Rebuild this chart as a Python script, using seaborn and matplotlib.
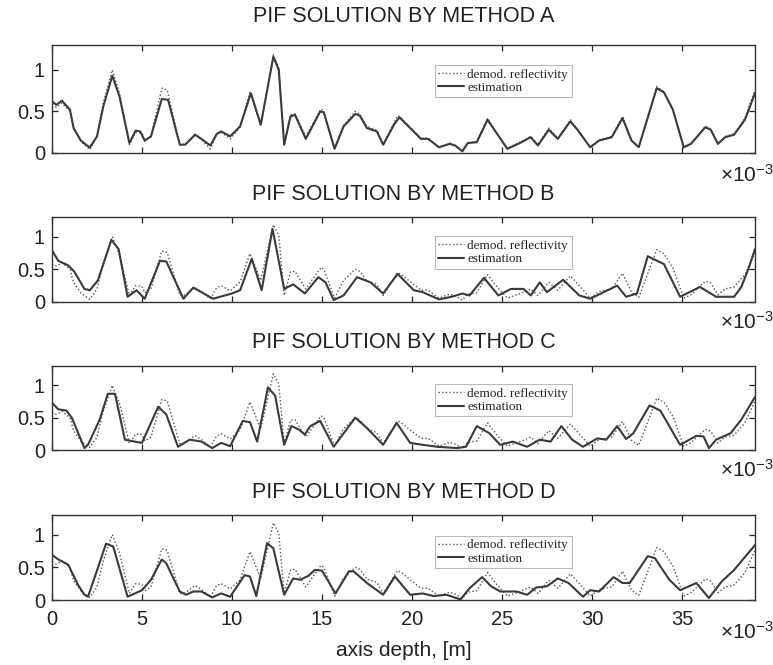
import numpy as np
import pandas as pd
import matplotlib
matplotlib.use("Agg")
import matplotlib.pyplot as plt
import seaborn as sns

# depth in units of 1e-3 m
depth_ref = [0, 0.25, 0.55, 1.0, 1.2, 1.6, 2.1, 2.5, 2.85, 3.35, 3.75, 4.3, 4.65, 5.0, 5.15, 5.5,
             6.1, 6.4, 7.1, 7.4, 7.95, 8.3, 8.8, 9.15, 9.4, 9.9, 10.45, 11.0, 11.6, 12.3, 12.6,
             12.9, 13.25, 13.5, 14.1, 14.95, 15.1, 15.7, 16.2, 16.85, 17.1, 17.5, 18.05, 18.4,
             19.2, 19.4, 20.5, 20.9, 21.5, 22.1, 22.4, 22.8, 23.1, 23.6, 24.2, 24.7, 25.3, 26.0,
             26.6, 27.0, 27.6, 28.1, 28.8, 29.2, 29.9, 30.4, 31.1, 31.7, 32.2, 32.6, 33.6, 34.0,
             34.5, 35.1, 35.5, 36.3, 36.6, 37.0, 37.4, 37.9, 38.5, 39.06]
refl = [0.58, 0.55, 0.60, 0.50, 0.30, 0.14, 0.04, 0.20, 0.60, 1.00, 0.72, 0.10, 0.25, 0.24, 0.14,
        0.20, 0.78, 0.76, 0.10, 0.11, 0.22, 0.16, 0.05, 0.22, 0.25, 0.17, 0.31, 0.74, 0.33, 1.18,
        1.02, 0.10, 0.46, 0.47, 0.20, 0.53, 0.50, 0.06, 0.33, 0.50, 0.47, 0.32, 0.27, 0.10, 0.45,
        0.42, 0.18, 0.18, 0.06, 0.12, 0.09, 0.03, 0.12, 0.14, 0.42, 0.24, 0.06, 0.13, 0.20, 0.10,
        0.30, 0.18, 0.40, 0.28, 0.06, 0.16, 0.20, 0.44, 0.15, 0.07, 0.80, 0.74, 0.52, 0.06, 0.11,
        0.32, 0.29, 0.11, 0.20, 0.23, 0.42, 0.76]

depth_a = [0, 0.25, 0.55, 1.0, 1.2, 1.6, 2.1, 2.5, 2.85, 3.35, 3.75, 4.3, 4.65, 4.9, 5.15, 5.5,
           6.1, 6.45, 7.1, 7.4, 7.95, 8.3, 8.8, 9.15, 9.4, 9.9, 10.45, 11.05, 11.6, 12.3, 12.6,
           12.9, 13.25, 13.5, 14.1, 14.9, 15.1, 15.7, 16.2, 16.85, 17.1, 17.5, 18.05, 18.4, 19.0,
           19.3, 20.5, 20.9, 21.5, 22.1, 22.4, 22.8, 23.1, 23.6, 24.2, 24.7, 25.3, 26.0, 26.6,
           27.0, 27.6, 28.1, 28.8, 29.2, 29.9, 30.4, 31.1, 31.7, 32.2, 32.6, 33.6, 34.0, 34.5,
           35.1, 35.5, 36.3, 36.6, 37.0, 37.4, 37.9, 38.5, 39.06]
est_a = [0.62, 0.58, 0.63, 0.52, 0.30, 0.15, 0.065, 0.20, 0.56, 0.93, 0.68, 0.12, 0.27, 0.26, 0.15,
         0.20, 0.65, 0.64, 0.10, 0.10, 0.22, 0.17, 0.09, 0.23, 0.26, 0.20, 0.32, 0.72, 0.34, 1.16,
         1.00, 0.10, 0.44, 0.46, 0.17, 0.50, 0.49, 0.05, 0.32, 0.47, 0.45, 0.30, 0.26, 0.10, 0.34,
         0.43, 0.17, 0.17, 0.07, 0.11, 0.09, 0.02, 0.12, 0.13, 0.40, 0.24, 0.05, 0.12, 0.19, 0.09,
         0.28, 0.17, 0.38, 0.28, 0.07, 0.15, 0.19, 0.42, 0.15, 0.07, 0.78, 0.73, 0.52, 0.07, 0.11,
         0.31, 0.28, 0.11, 0.19, 0.22, 0.40, 0.72]

depth_b = [0, 0.35, 0.9, 1.25, 1.8, 2.1, 2.55, 3.3, 3.7, 4.2, 4.7, 5.15, 6.0, 6.35, 7.3, 7.85, 8.95,
           10.0, 10.45, 11.1, 11.65, 12.25, 12.9, 13.4, 14.05, 14.8, 15.2, 15.65, 16.2, 16.95,
           17.7, 18.4, 19.2, 20.1, 20.6, 21.5, 22.2, 22.8, 23.2, 24.0, 24.8, 25.5, 26.2, 26.6,
           27.1, 27.5, 28.4, 29.3, 29.9, 30.5, 31.4, 31.9, 32.5, 33.1, 34.0, 34.9, 36.0, 36.9,
           37.9, 38.3, 38.7, 39.06]
est_b = [0.79, 0.63, 0.56, 0.46, 0.20, 0.18, 0.33, 0.95, 0.81, 0.08, 0.18, 0.05, 0.63, 0.62, 0.05,
         0.22, 0.05, 0.13, 0.18, 0.66, 0.18, 1.12, 0.20, 0.27, 0.13, 0.38, 0.30, 0.03, 0.10, 0.38,
         0.30, 0.13, 0.43, 0.18, 0.15, 0.04, 0.08, 0.13, 0.10, 0.37, 0.10, 0.20, 0.20, 0.10, 0.30,
         0.15, 0.34, 0.10, 0.05, 0.13, 0.25, 0.08, 0.13, 0.70, 0.58, 0.08, 0.23, 0.08, 0.08, 0.23,
         0.51, 0.81]

depth_c = [0, 0.35, 0.8, 1.1, 1.8, 2.0, 2.65, 3.1, 3.5, 4.05, 4.6, 5.0, 5.9, 6.35, 7.0, 7.65, 8.3,
           8.9, 9.4, 9.9, 10.6, 11.0, 11.4, 12.0, 12.4, 12.9, 13.3, 13.7, 14.05, 14.35, 14.9,
           15.65, 16.85, 17.5, 18.4, 19.15, 19.9, 20.6, 21.4, 22.5, 23.0, 23.6, 24.3, 24.9, 25.6,
           26.4, 27.1, 27.7, 28.3, 28.9, 29.5, 30.3, 30.8, 31.4, 31.9, 32.3, 33.2, 33.8, 34.9,
           35.8, 36.2, 36.5, 36.9, 37.7, 38.3, 39.06]
est_c = [0.73, 0.63, 0.61, 0.50, 0.03, 0.08, 0.47, 0.87, 0.87, 0.16, 0.13, 0.11, 0.67, 0.55, 0.05,
         0.16, 0.13, 0.03, 0.11, 0.06, 0.45, 0.43, 0.13, 0.97, 0.84, 0.08, 0.37, 0.32, 0.24, 0.37,
         0.45, 0.05, 0.50, 0.34, 0.08, 0.42, 0.11, 0.08, 0.05, 0.03, 0.05, 0.37, 0.26, 0.08, 0.13,
         0.05, 0.16, 0.13, 0.37, 0.16, 0.05, 0.18, 0.16, 0.37, 0.17, 0.26, 0.69, 0.61, 0.08, 0.22,
         0.21, 0.03, 0.16, 0.26, 0.47, 0.82]

depth_d = [0, 0.35, 0.9, 1.45, 1.8, 2.0, 2.45, 3.0, 3.4, 4.2, 5.0, 5.5, 6.1, 6.35, 7.1, 7.45, 7.85,
           8.3, 8.9, 9.4, 9.9, 10.7, 11.0, 11.35, 11.95, 12.3, 12.9, 13.4, 13.8, 14.25, 14.6,
           15.0, 15.75, 16.5, 16.75, 17.5, 18.4, 19.05, 19.9, 20.6, 21.2, 21.9, 22.7, 23.2, 23.9,
           24.4, 24.9, 25.8, 26.4, 26.9, 27.5, 28.1, 28.7, 29.5, 29.9, 30.4, 31.2, 31.7, 32.1,
           33.1, 33.5, 34.3, 34.9, 35.8, 36.5, 37.2, 37.9, 39.06]
est_d = [0.69, 0.62, 0.54, 0.23, 0.08, 0.05, 0.41, 0.86, 0.82, 0.05, 0.15, 0.31, 0.62, 0.56, 0.13,
         0.08, 0.13, 0.13, 0.04, 0.10, 0.05, 0.38, 0.36, 0.06, 0.87, 0.79, 0.08, 0.33, 0.31, 0.37,
         0.46, 0.45, 0.10, 0.44, 0.44, 0.26, 0.08, 0.36, 0.08, 0.10, 0.06, 0.08, 0.01, 0.18, 0.35,
         0.21, 0.13, 0.13, 0.08, 0.19, 0.21, 0.33, 0.26, 0.05, 0.15, 0.13, 0.35, 0.26, 0.26, 0.67,
         0.64, 0.31, 0.15, 0.26, 0.03, 0.28, 0.46, 0.84]

methods = ["A", "B", "C", "D"]
estimates = [(depth_a, est_a), (depth_b, est_b), (depth_c, est_c), (depth_d, est_d)]
xticks = [0, 5, 10, 15, 20, 25, 30, 35]
yticks = [0, 0.5, 1]

sns.set_theme(style="ticks")
plt.rcParams["font.family"] = ["Liberation Sans", "DejaVu Sans"]
plt.rcParams["mathtext.fontset"] = "custom"
plt.rcParams["mathtext.rm"] = "Liberation Sans"
plt.rcParams["mathtext.it"] = "Liberation Sans"

fig = plt.figure(figsize=(7.73, 6.65), dpi=100)

# axes boxes in pixels: (top, bottom)
boxes = [(45, 153), (217, 302), (366, 450), (515, 600)]
title_pads = [16.5, 12.2, 13.0, 12.2]
leg_y = [0.815, 0.775, 0.785, 0.755]
exp_drop = [-21, -19.5, -19.5, -28]
W, H = 773, 665
line_col = "#3a3a3a"

for i, m in enumerate(methods):
    top, bot = boxes[i]
    ax = fig.add_axes([52 / W, 1 - bot / H, (755 - 52) / W, (bot - top) / H])
    ref_df = pd.DataFrame({"depth": depth_ref, "amp": refl})
    dx, dy = estimates[i]
    est_df = pd.DataFrame({"depth": dx, "amp": dy})
    sns.lineplot(data=ref_df, x="depth", y="amp", ax=ax, estimator=None,
                 color="#555555", lw=1.0, ls=(0, (1, 1.6)), label="demod. reflectivity")
    sns.lineplot(data=est_df, x="depth", y="amp", ax=ax, estimator=None,
                 color=line_col, lw=1.5, label="estimation")
    ax.set_xlim(0, 39.06)
    ax.set_ylim(0, 1.3)
    ax.set_xticks(xticks)
    ax.set_yticks(yticks)
    ax.set_yticklabels(["0", "0.5", "1"])
    ax.tick_params(direction="in", length=4, width=0.9, top=True, right=True,
                   labelsize=14.5, colors="#222222", pad=5)
    ax.tick_params(axis="x", pad=7)
    for s in ax.spines.values():
        s.set_linewidth(1.0)
        s.set_color("#333333")
    ax.set_ylabel("")
    if i < 3:
        ax.set_xticklabels([])
        ax.set_xlabel("")
    else:
        ax.set_xticklabels([str(t) for t in xticks])
        ax.set_xlabel("axis depth, [m]", fontsize=15, color="#222222", labelpad=9)
    ax.set_title(f"PIF SOLUTION BY METHOD {m}", fontsize=15.5, color="#222222",
                 pad=title_pads[i])
    ax.annotate(r"$\times10^{-3}$", xy=(1, 0), xycoords="axes fraction",
                xytext=(-25, exp_drop[i]), textcoords="offset points", fontsize=15,
                color="#222222", ha="left", va="baseline")
    leg = ax.legend(loc="upper left", bbox_to_anchor=(0.545, leg_y[i]),
                    prop={"family": "Liberation Serif", "size": 9.5},
                    frameon=True, fancybox=False, framealpha=1, edgecolor="#bbbbbb",
                    handlelength=1.9, handletextpad=0.3, borderpad=0.25,
                    labelspacing=0.1, borderaxespad=0)
    leg.get_frame().set_linewidth(0.8)

fig.savefig("out.png", dpi=100)
